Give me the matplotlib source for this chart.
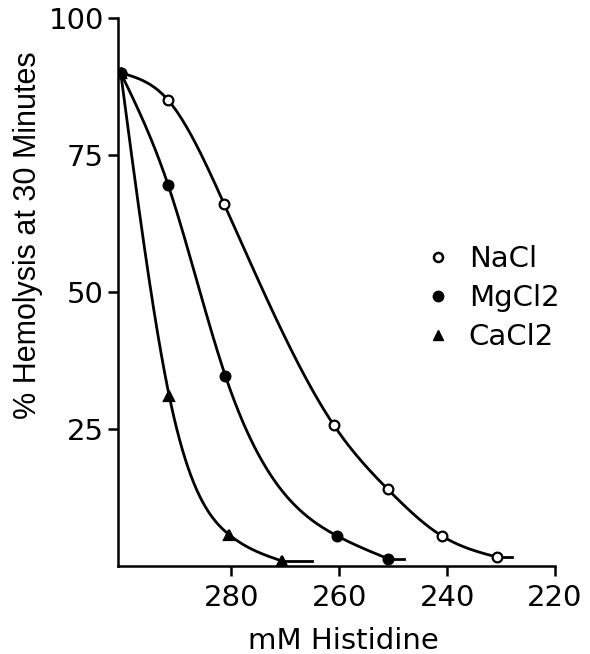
import numpy as np
import matplotlib
matplotlib.use("Agg")
import matplotlib.pyplot as plt
from matplotlib.lines import Line2D

plt.rcParams['font.family'] = ['DejaVu Sans']

# Data (mM histidine, % hemolysis)
nacl_x = [300.5, 291.7, 281.3, 261.0, 251.0, 241.0, 230.7]
nacl_y = [90.0, 85.0, 66.0, 25.7, 14.0, 5.5, 1.6]
mgcl2_x = [300.5, 291.7, 281.1, 260.4, 250.9]
mgcl2_y = [90.0, 69.5, 34.7, 5.5, 1.3]
cacl2_x = [300.5, 291.5, 280.4, 270.6]
cacl2_y = [90.0, 31.0, 5.7, 0.9]
# where each hand-drawn curve's short tail ends
tail_end = {"NaCl": 228.0, "MgCl2": 248.0, "CaCl2": 265.0}

series_names = ["NaCl", "MgCl2", "CaCl2"]
x_ticks = [280, 260, 240, 220]
y_ticks = [25, 50, 75, 100]


def natural_spline(x, y, xs):
    x = np.asarray(x, float)
    y = np.asarray(y, float)
    n = len(x)
    h = np.diff(x)
    A = np.zeros((n, n))
    b = np.zeros(n)
    A[0, 0] = 1
    A[-1, -1] = 1
    for i in range(1, n - 1):
        A[i, i - 1] = h[i - 1]
        A[i, i] = 2 * (h[i - 1] + h[i])
        A[i, i + 1] = h[i]
        b[i] = 6 * ((y[i + 1] - y[i]) / h[i] - (y[i] - y[i - 1]) / h[i - 1])
    M = np.linalg.solve(A, b)
    out = np.empty_like(xs)
    for j, xv in enumerate(xs):
        k = int(np.clip(np.searchsorted(x, xv) - 1, 0, n - 2))
        a = x[k + 1] - xv
        c = xv - x[k]
        out[j] = (M[k] * a**3 / (6 * h[k]) + M[k + 1] * c**3 / (6 * h[k])
                  + (y[k] / h[k] - M[k] * h[k] / 6) * a
                  + (y[k + 1] / h[k] - M[k + 1] * h[k] / 6) * c)
    return out


fig = plt.figure(figsize=(5.90, 6.54), dpi=100)
ax = fig.add_axes([0.2, 0.1346, 0.7407, 0.8379])

data = {"NaCl": (nacl_x, nacl_y, 'o', 'white'),
        "MgCl2": (mgcl2_x, mgcl2_y, 'o', 'black'),
        "CaCl2": (cacl2_x, cacl2_y, '^', 'black')}

for name in series_names:
    xs, ys, mk, fc = data[name]
    xa = np.array(xs[::-1])
    ya = np.array(ys[::-1])
    grid = np.linspace(xa[0], xa[-1], 400)
    curve = np.maximum(natural_spline(xa, ya, grid), ya[0])
    ax.plot(grid, curve, color='black', lw=2.0, solid_capstyle='round', zorder=2)
    ax.plot([tail_end[name], xa[0]], [ya[0], ya[0]], color='black', lw=2.0, zorder=2)
    ax.plot(xs, ys, linestyle='none', marker=mk, markersize=7,
            markerfacecolor=fc, markeredgecolor='black', markeredgewidth=1.6, zorder=3)

ax.set_xlim(301, 220)
ax.set_ylim(0, 100)
ax.set_xticks(x_ticks)
ax.set_xticklabels([str(v) for v in x_ticks])
ax.set_yticks(y_ticks)
ax.set_yticklabels([str(v) for v in y_ticks])

for s in ['top', 'right']:
    ax.spines[s].set_visible(False)
for s in ['left', 'bottom']:
    ax.spines[s].set_linewidth(1.8)

ax.tick_params(axis='both', direction='out', length=7, width=1.8, labelsize=21, pad=3)
ax.tick_params(axis='x', pad=6)

ax.set_xlabel("mM Histidine", fontsize=21)
ax.xaxis.set_label_coords(0.515, -0.112)
ax.set_ylabel("% Hemolysis at 30 Minutes", fontsize=22, family=['Liberation Sans', 'DejaVu Sans'])
ax.yaxis.set_label_coords(-0.172, 0.604)

handles = [Line2D([], [], linestyle='none', marker='o', markersize=6.5, markerfacecolor='white',
                  markeredgecolor='black', markeredgewidth=1.8),
           Line2D([], [], linestyle='none', marker='o', markersize=7.5, markerfacecolor='black',
                  markeredgecolor='black'),
           Line2D([], [], linestyle='none', marker='^', markersize=6.5, markerfacecolor='black',
                  markeredgecolor='black')]
ax.legend(handles, series_names, loc='center left', bbox_to_anchor=(0.666, 0.489),
          frameon=False, fontsize=21, handlelength=1.0, handletextpad=0.55,
          labelspacing=0.37, borderpad=0)

fig.savefig("out.png", dpi=100)
